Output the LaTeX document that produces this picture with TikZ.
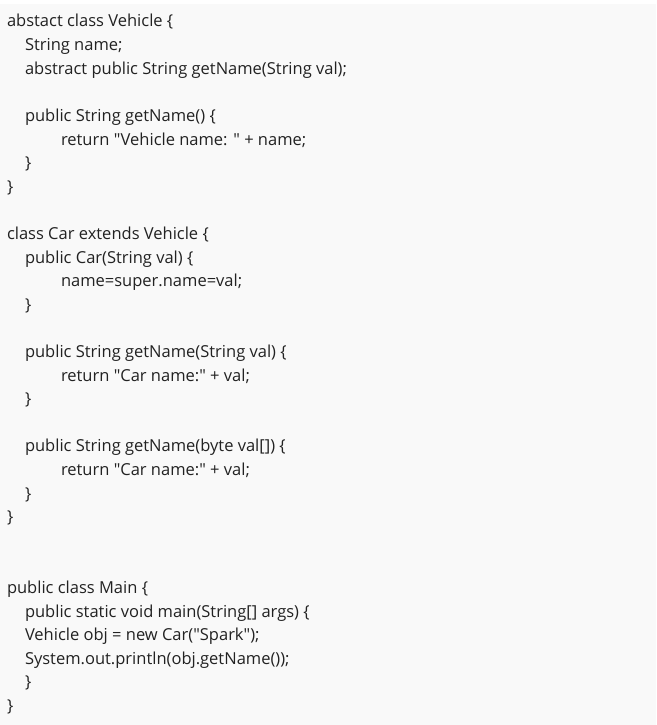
\documentclass[tikz,border=0pt]{standalone}
\usepackage{fontspec}
\setmainfont{Open Sans}[Ligatures=TeXOff]
\definecolor{bgc}{HTML}{F9F9F9}
\definecolor{txt}{HTML}{222222}
\newlength\myreflen
\newcommand\mycodefont{\fontsize{\myfs pt}{\myfs pt}\selectfont}
\begin{document}
\settowidth{\myreflen}{\fontsize{10pt}{12pt}\selectfont abstract public String getName(String val);}%
\pgfmathsetmacro\myfs{10*322/\myreflen}%
\begin{tikzpicture}[x=1pt,y=-1pt,
  codeline/.style={anchor=base west, inner sep=0pt, outer sep=0pt, text=txt, font=\mycodefont}]
\useasboundingbox (0,0) rectangle (656,725);
\fill[white] (0,0) rectangle (656,725);
\fill[bgc] (0,4) rectangle (656,725);
% class Vehicle
\node[codeline] (l0)  at (7,27)    {abstact class Vehicle \{};
\node[codeline] (l1)  at (25,50.6) {String name;};
\node[codeline] (l2)  at (25,74.2) {abstract public String getName(String val);};
\node[codeline] (l4)  at (25,121.4) {public String getName() \{};
\node[codeline] (l5)  at (61,145)  {return "Vehicle name: " + name;};
\node[codeline] (l6)  at (25,168.6) {\}};
\node[codeline] (l7)  at (7,192.2) {\}};
% class Car
\node[codeline] (l9)  at (7,239.4) {class Car extends Vehicle \{};
\node[codeline] (l10) at (25,263)  {public Car(String val) \{};
\node[codeline] (l11) at (61,286.6) {name=super.name=val;};
\node[codeline] (l12) at (25,310.2) {\}};
\node[codeline] (l14) at (25,357.4) {public String getName(String val) \{};
\node[codeline] (l15) at (61,381)  {return "Car name:" + val;};
\node[codeline] (l16) at (25,404.6) {\}};
\node[codeline] (l18) at (25,451.8) {public String getName(byte val[]) \{};
\node[codeline] (l19) at (61,475.4) {return "Car name:" + val;};
\node[codeline] (l20) at (25,499)  {\}};
\node[codeline] (l21) at (7,522.6) {\}};
% class Main
\node[codeline] (l24) at (7,593.4) {public class Main \{};
\node[codeline] (l25) at (25,617)  {public static void main(String[] args) \{};
\node[codeline] (l26) at (25,640.6) {Vehicle obj = new Car("Spark");};
\node[codeline] (l27) at (25,664.2) {System.out.println(obj.getName());};
\node[codeline] (l28) at (25,687.8) {\}};
\node[codeline] (l29) at (7,711.4) {\}};
\end{tikzpicture}
\end{document}
